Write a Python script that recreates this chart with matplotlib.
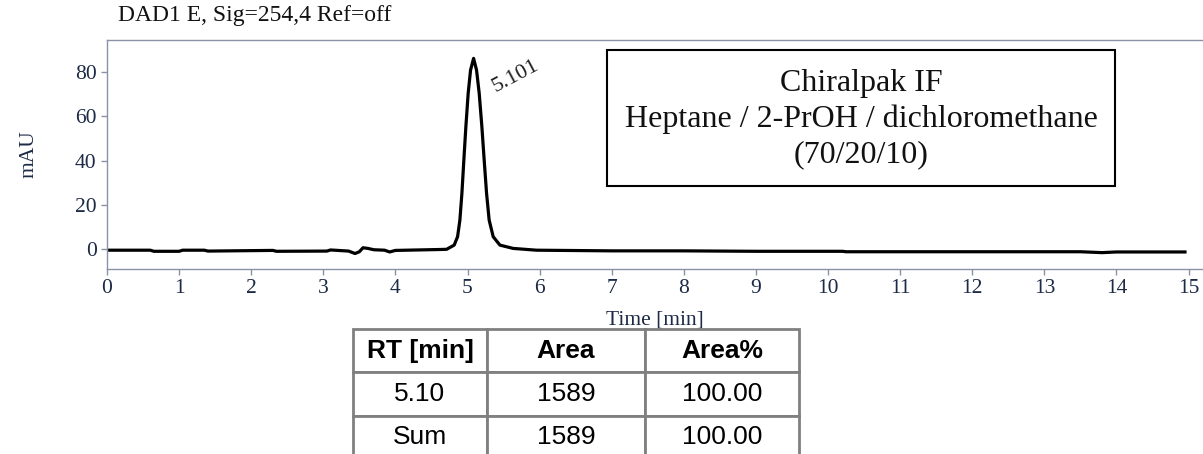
import matplotlib
matplotlib.use("Agg")
import matplotlib.pyplot as plt
from matplotlib.patches import Rectangle

# chromatogram trace (time in min, signal in mAU)
time_min = [0.0, 0.6, 0.65, 1.0, 1.05, 1.35, 1.4, 2.3, 2.35, 3.05, 3.1, 3.35,
            3.44, 3.5, 3.55, 3.62, 3.7, 3.85, 3.92, 4.0, 4.3, 4.6, 4.71, 4.815,
            4.862, 4.894, 4.922, 4.949, 4.977, 5.009, 5.042, 5.084, 5.125,
            5.162, 5.199, 5.231, 5.264, 5.30, 5.356, 5.449, 5.633, 5.957,
            7.0, 8.0, 9.0, 10.2, 10.25, 11.0, 12.0, 13.5, 13.8, 14.0, 14.95]
signal_mau = [-0.5, -0.5, -1.0, -1.0, -0.5, -0.5, -0.9, -0.6, -1.0, -0.9, -0.4, -0.9,
              -2.0, -1.2, 0.6, 0.3, -0.3, -0.5, -1.3, -0.6, -0.4, -0.2, -0.1, 1.8,
              5.6, 13.1, 25.2, 40.2, 55.3, 70.4, 80.9, 86.2, 80.9,
              70.4, 55.3, 40.2, 25.2, 13.1, 5.6, 1.8, 0.3, -0.5,
              -0.8, -0.8, -1.0, -1.0, -1.2, -1.2, -1.2, -1.2, -1.6, -1.3, -1.3]

peak_rt = 5.084
peak_top = 86.2
peak_label = "5.101"
title = "DAD1 E, Sig=254,4 Ref=off"
box_lines = ["Chiralpak IF", "Heptane / 2-PrOH / dichloromethane", "(70/20/10)"]

col_labels = ["RT [min]", "Area", "Area%"]
rows = [["5.10", "1589", "100.00"],
        ["Sum", "1589", "100.00"]]

W, H = 1203, 454
fig = plt.figure(figsize=(W / 100, H / 100), dpi=100)

spine_c = "#8a93a6"
text_c = "#1c2a45"

ax = fig.add_axes([107 / W, (H - 269) / H, (W - 107) / W, 229 / H])
ax.plot(time_min, signal_mau, color="black", lw=2.3, solid_joinstyle="round")
ax.set_xlim(0, 15.2)
ax.set_ylim(-9.0, 94.5)
ax.set_xticks(range(0, 16))
ax.set_yticks([0, 20, 40, 60, 80])
for s in ["left", "top", "bottom"]:
    ax.spines[s].set_color(spine_c)
    ax.spines[s].set_linewidth(1.0)
ax.spines["right"].set_visible(False)
ax.tick_params(colors=spine_c, labelcolor=text_c, length=4, width=1.0, labelsize=15.5)
ax.tick_params(axis="x", pad=3)
for lab in ax.get_xticklabels() + ax.get_yticklabels():
    lab.set_family("Liberation Serif")

ax.set_xlabel("Time [min]", family="Liberation Serif", fontsize=15.5, color=text_c, labelpad=9)
ax.set_ylabel("mAU", family="Liberation Serif", fontsize=15.5, color=text_c, labelpad=26)

ax.annotate(peak_label, xy=(peak_rt, peak_top), xytext=(16, -24), textcoords="offset points",
            rotation=28, family="Liberation Serif", fontsize=16, color="#222222",
            ha="left", va="baseline", rotation_mode="anchor")

fig.text(118 / W, 1 - 15 / H, title, family="Liberation Serif", fontsize=17,
         color="#111111", ha="left", va="center")

# method box
fig.patches.append(Rectangle((607 / W, 1 - 186 / H), (1115 - 607) / W, 136 / H,
                             transform=fig.transFigure, fill=False, ec="black", lw=1.5))
fig.text(861 / W, 1 - 119 / H, "\n".join(box_lines), family="Liberation Serif", fontsize=23,
         ha="center", va="center", linespacing=1.3, color="#111111")

# results table
ax_t = fig.add_axes([353 / W, (H - 459) / H, (799 - 353) / W, 130 / H])
ax_t.axis("off")
tbl = ax_t.table(cellText=rows, colLabels=col_labels, cellLoc="center",
                 bbox=[0, 0, 1, 1], colWidths=[134, 158, 154])
tbl.auto_set_font_size(False)
for (r, c), cell in tbl.get_celld().items():
    cell.set_edgecolor("#808080")
    cell.set_linewidth(2.0)
    cell.set_facecolor("white")
    txt = cell.get_text()
    txt.set_family("Liberation Sans")
    txt.set_fontsize(19)
    if r == 0:
        txt.set_weight("bold")

fig.savefig("out.png", dpi=100)
